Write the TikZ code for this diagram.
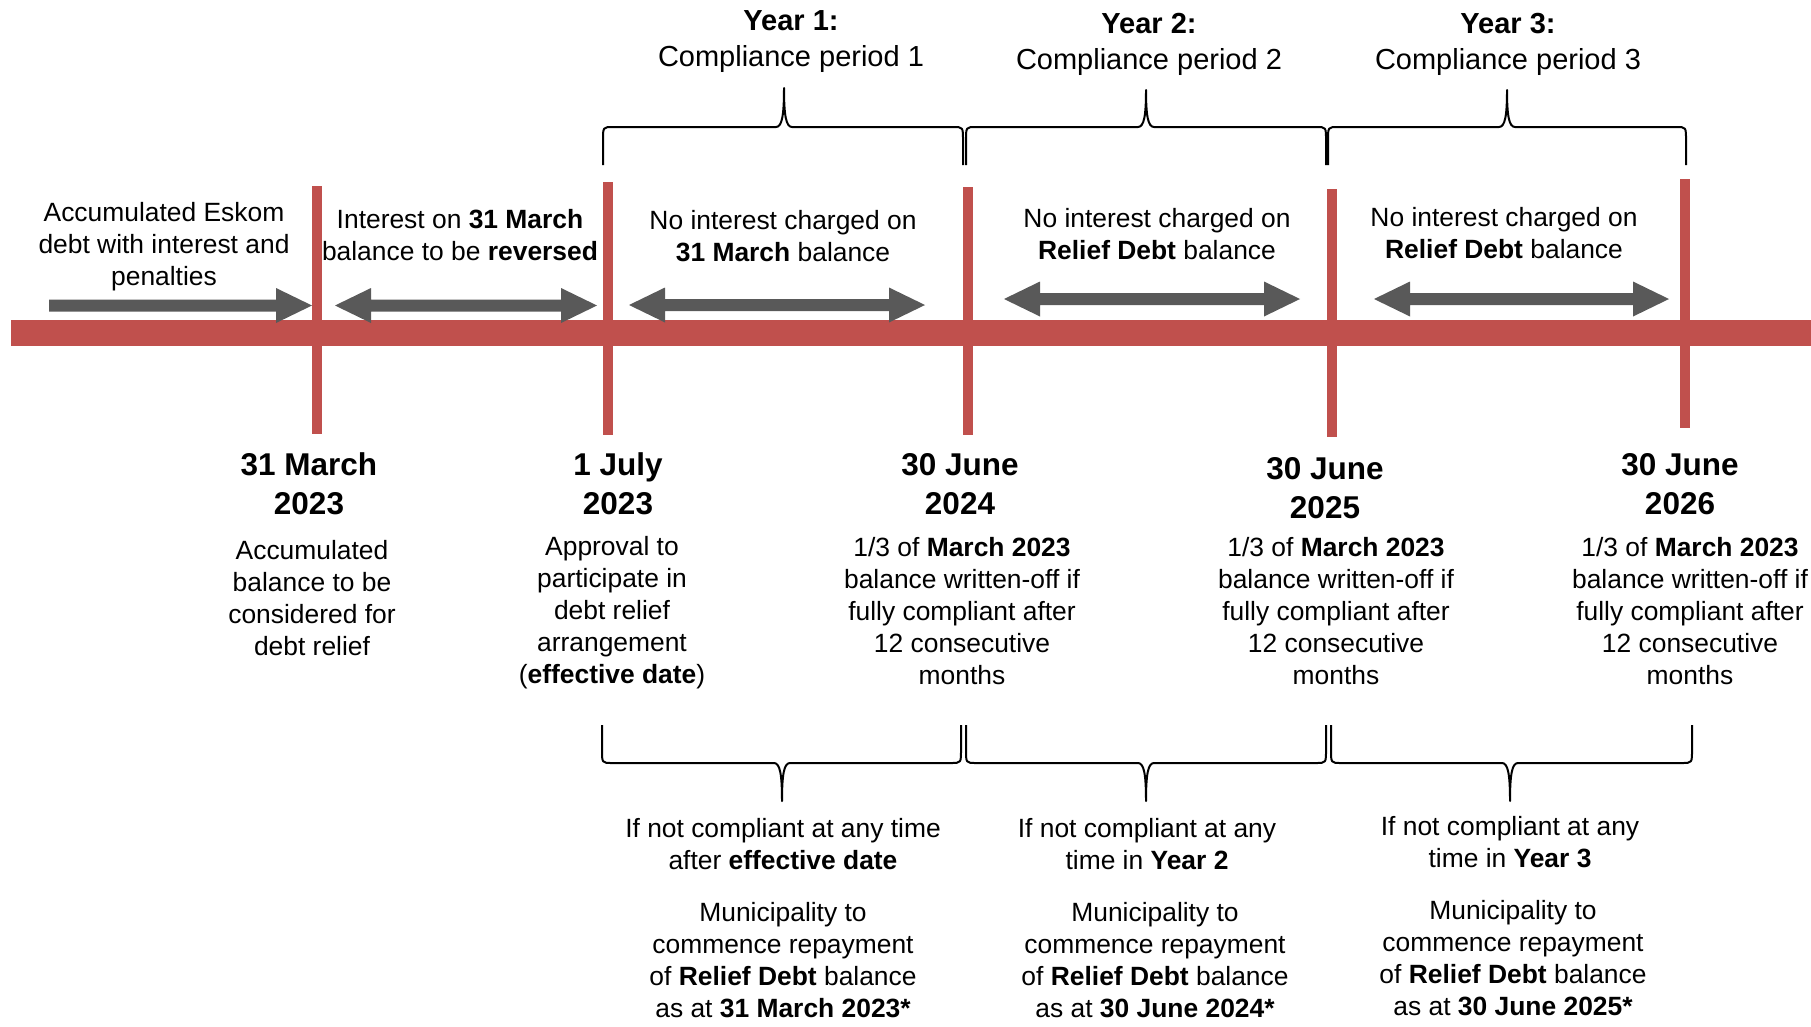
\documentclass[tikz,border=0pt]{standalone}
\usepackage{fontspec}
\setmainfont{Liberation Sans}
\definecolor{barred}{HTML}{C0504D}
\definecolor{arrgray}{HTML}{595959}
\tikzset{
  body/.style={align=center, font=\fontsize{26.4}{32}\selectfont, inner sep=0pt},
  headlbl/.style={align=center, font=\fontsize{29}{36}\selectfont, inner sep=0pt},
  datelbl/.style={align=center, font=\fontsize{31.5}{38.5}\selectfont\bfseries, inner sep=0pt},
  tick/.style={draw=barred, line width=10pt},
  bracepath/.style={draw=black, line width=2pt, line join=round},
  arrowshape/.style={fill=arrgray},
}
\newcommand{\rightarr}[3]{%
  \fill[arrowshape] ({#1},{#3-6}) -- ({#2-36},{#3-6}) -- ({#2-36},{#3-17.5}) -- ({#2},{#3})
    -- ({#2-36},{#3+17.5}) -- ({#2-36},{#3+6}) -- ({#1},{#3+6}) -- cycle;}
\newcommand{\dblarr}[3]{%
  \fill[arrowshape] ({#1},{#3}) -- ({#1+36},{#3-17.5}) -- ({#1+36},{#3-6}) -- ({#2-36},{#3-6})
    -- ({#2-36},{#3-17.5}) -- ({#2},{#3}) -- ({#2-36},{#3+17.5}) -- ({#2-36},{#3+6})
    -- ({#1+36},{#3+6}) -- ({#1+36},{#3+17.5}) -- cycle;}
% x1, x2, xc, ybase, yflat, ytip
\newcommand{\curlybrace}[6]{%
  \draw[bracepath] ({#1},{#4}) -- ({#1},{#5+(#4-#5)*0.35})
    .. controls ({#1},{#5}) .. ({#1+10},{#5})
    -- ({#3-8},{#5}) .. controls ({#3-2},{#5}) and ({#3},{#5+(#6-#5)*0.3}) .. ({#3},{#6})
    .. controls ({#3},{#5+(#6-#5)*0.3}) and ({#3+2},{#5}) .. ({#3+8},{#5})
    -- ({#2-10},{#5}) .. controls ({#2},{#5}) .. ({#2},{#5+(#4-#5)*0.35})
    -- ({#2},{#4});}
\begin{document}
\begin{tikzpicture}[x=1pt, y=-1pt]
\useasboundingbox (0,0) rectangle (1811,1026);
% main bar
\fill[barred] (11,320) rectangle (1811,346);
% ticks
\draw[tick] (316.5,186) -- (316.5,434);
\draw[tick] (608,182) -- (608,435);
\draw[tick] (968,187) -- (968,435);
\draw[tick] (1332,189) -- (1332,437);
\draw[tick] (1685,179) -- (1685,428);
% arrows
\rightarr{49}{312}{305.5}
\dblarr{335}{597}{305.5}
\dblarr{629}{925}{305}
\dblarr{1004}{1300}{299}
\dblarr{1374}{1669}{299}
% top braces
\curlybrace{603}{963}{784}{165}{127}{88}
\curlybrace{966}{1326}{1146}{165}{127}{90}
\curlybrace{1328}{1686}{1507}{165}{127}{90}
% bottom braces
\curlybrace{602}{961}{782}{725}{763}{801}
\curlybrace{966}{1326}{1146}{725}{763}{801}
\curlybrace{1331}{1692}{1510}{725}{763}{801}
% top headings
\node[headlbl] (y1) at (791,41.5) {\textbf{Year 1:}\\Compliance period 1};
\node[headlbl] (y2) at (1149,44.5) {\textbf{Year 2:}\\Compliance period 2};
\node[headlbl] (y3) at (1508,44.5) {\textbf{Year 3:}\\Compliance period 3};
% labels above bar
\node[body] (la) at (164,247) {Accumulated Eskom\\debt with interest and\\penalties};
\node[body] (lb) at (460,235) {Interest on \textbf{31 March}\\balance to be \textbf{reversed}};
\node[body] (lc) at (783,236) {No interest charged on\\\textbf{31 March} balance};
\node[body] (ld) at (1157,234.5) {No interest charged on\\\textbf{Relief Debt} balance};
\node[body] (le) at (1504,233.5) {No interest charged on\\\textbf{Relief Debt} balance};
% dates
\node[datelbl] (d1) at (309,484) {31 March\\2023};
\node[datelbl] (d2) at (618,484) {1 July\\2023};
\node[datelbl] (d3) at (960,484) {30 June\\2024};
\node[datelbl] (d4) at (1325,488) {30 June\\2025};
\node[datelbl] (d5) at (1680,484) {30 June\\2026};
% descriptions under dates
\node[body] (t1) at (312,598) {Accumulated\\balance to be\\considered for\\debt relief};
\node[body] (t2) at (612,613) {Approval to\\participate in\\debt relief\\arrangement\\(\textbf{effective date})};
\node[body] (t3) at (962,611) {1/3 of \textbf{March 2023}\\balance written-off if\\fully compliant after\\12 consecutive\\months};
\node[body] (t4) at (1336,611) {1/3 of \textbf{March 2023}\\balance written-off if\\fully compliant after\\12 consecutive\\months};
\node[body] (t5) at (1690,611) {1/3 of \textbf{March 2023}\\balance written-off if\\fully compliant after\\12 consecutive\\months};
% bottom texts
\node[body] (b1) at (783,844) {If not compliant at any time\\after \textbf{effective date}};
\node[body] (c1) at (783,960) {Municipality to\\commence repayment\\of \textbf{Relief Debt} balance\\as at \textbf{31 March 2023*}};
\node[body] (b2) at (1147,844) {If not compliant at any\\time in \textbf{Year 2}};
\node[body] (c2) at (1155,960) {Municipality to\\commence repayment\\of \textbf{Relief Debt} balance\\as at \textbf{30 June 2024*}};
\node[body] (b3) at (1510,842) {If not compliant at any\\time in \textbf{Year 3}};
\node[body] (c3) at (1513,958) {Municipality to\\commence repayment\\of \textbf{Relief Debt} balance\\as at \textbf{30 June 2025*}};
\end{tikzpicture}
\end{document}
